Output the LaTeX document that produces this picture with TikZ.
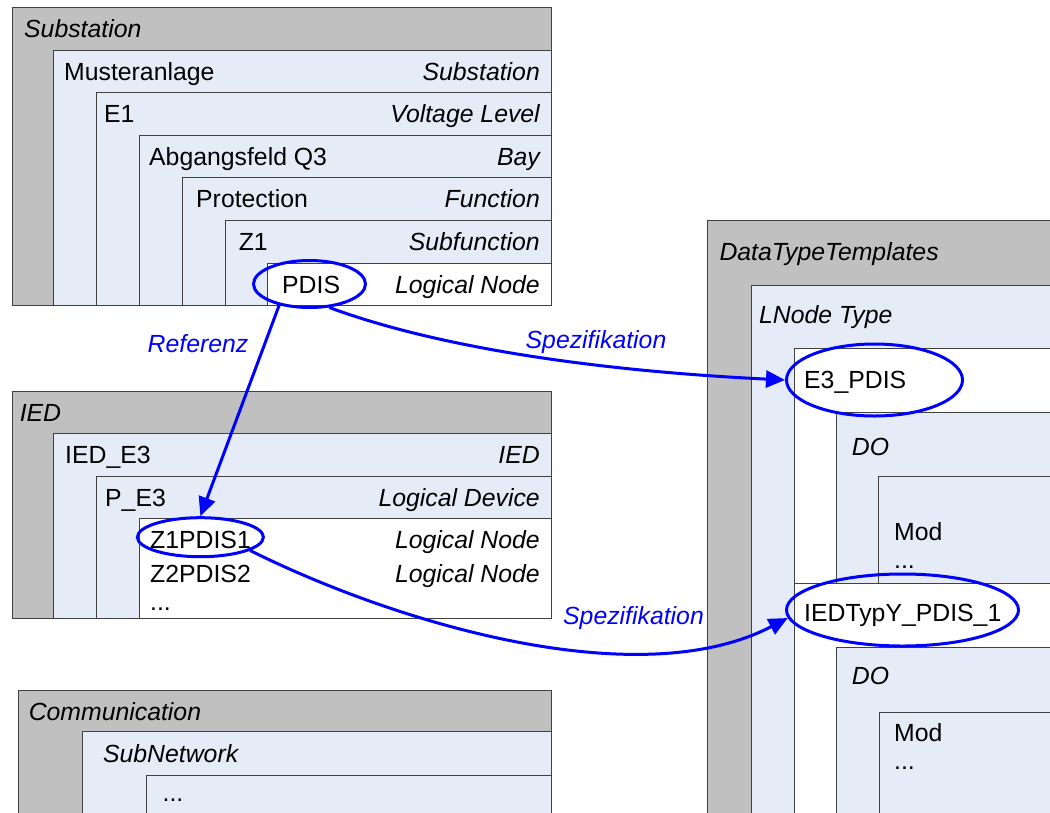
\documentclass[tikz,border=0pt]{standalone}
\usepackage{fontspec}
\setmainfont{Liberation Sans}
\usetikzlibrary{shapes.geometric,arrows.meta}
\definecolor{grayfill}{RGB}{192,192,192}
\definecolor{lightblue}{RGB}{230,236,247}
\definecolor{bordercol}{RGB}{64,64,64}
\definecolor{linkblue}{RGB}{0,0,255}
\tikzset{
  txt/.style={font=\fontsize{24.8pt}{28pt}\selectfont, inner sep=0pt, anchor=base west},
  itxt/.style={txt, font=\fontsize{24.8pt}{28pt}\selectfont\itshape},
  rtxt/.style={itxt, anchor=base east},
  outerbox/.style={fill=grayfill, draw=bordercol, line width=1pt},
  lbbox/.style={fill=lightblue, draw=bordercol, line width=1pt},
  wbox/.style={fill=white, draw=bordercol, line width=1pt},
  ring/.style={draw=linkblue, line width=3pt, ellipse, inner sep=0pt},
  link/.style={draw=linkblue, line width=3pt, -{Triangle[length=19pt,width=17pt]}},
  linklabel/.style={font=\fontsize{24.8pt}{28pt}\selectfont\itshape, text=linkblue, inner sep=0pt}
}
\begin{document}
\begin{tikzpicture}[x=1pt,y=-1pt]
\useasboundingbox (0,0) rectangle (1050,812);
\clip (0,0) rectangle (1050,812);
\fill[white] (0,0) rectangle (1050,812);

% ---------------- Substation ----------------
\path[outerbox] (12,7.5) rectangle (551,305.5);
\path[lbbox] (53,50.1) rectangle (551,305.5);
\path[lbbox] (96,92.7) rectangle (551,305.5);
\path[lbbox] (139,135.3) rectangle (551,305.5);
\path[lbbox] (182,177.9) rectangle (551,305.5);
\path[lbbox] (225,220.5) rectangle (551,305.5);
\path[wbox] (267,263.1) rectangle (551,305.5);

\node[itxt] (subT) at (24,37.5) {Substation};
\node[txt] (mustN) at (64,80.1) {Musteranlage};
\node[rtxt] (mustT) at (540,80.1) {Substation};
\node[txt] (e1N) at (104,122.7) {E1};
\node[rtxt] (e1T) at (540,122.7) {Voltage Level};
\node[txt] (bayN) at (149,165.3) {Abgangsfeld Q3};
\node[rtxt] (bayT) at (540,165.3) {Bay};
\node[txt] (funN) at (196,207.9) {Protection};
\node[rtxt] (funT) at (540,207.9) {Function};
\node[txt] (sfN) at (238.6,250.5) {Z1};
\node[rtxt] (sfT) at (540,250.5) {Subfunction};
\node[txt] (pdisN) at (282,293.1) {PDIS};
\node[rtxt] (lnT) at (540,293.1) {Logical Node};

% ---------------- IED ----------------
\path[outerbox] (12,391.7) rectangle (551,618.3);
\path[lbbox] (53.6,433.3) rectangle (551,618.3);
\path[lbbox] (96.4,476.7) rectangle (551,618.3);
\path[wbox] (139.3,518.7) rectangle (551,618.3);

\node[itxt] (iedT) at (19.6,421) {IED};
\node[txt] (iedN) at (65,463.5) {IED\_E3};
\node[rtxt] (iedR) at (540,463.5) {IED};
\node[txt] (ldN) at (105,506) {P\_E3};
\node[rtxt] (ldT) at (540,506) {Logical Device};
\node[txt] (z1N) at (150,548) {Z1PDIS1};
\node[rtxt] (z1T) at (540,548) {Logical Node};
\node[txt] (z2N) at (150,582.2) {Z2PDIS2};
\node[rtxt] (z2T) at (540,582.2) {Logical Node};
\node[txt] (iedDots) at (150,610) {...};

% ---------------- Communication ----------------
\path[outerbox] (18.6,690) rectangle (551,830);
\path[lbbox] (82.9,731.7) rectangle (551,830);
\path[lbbox] (146.4,775) rectangle (551,830);

\node[itxt] (comT) at (28.6,720) {Communication};
\node[itxt] (snT) at (102.9,762.2) {SubNetwork};
\node[txt] (comDots) at (162.5,801) {...};

% ---------------- DataTypeTemplates ----------------
\path[outerbox] (707.3,220.8) rectangle (1070,830);
\path[lbbox] (751,285) rectangle (1070,830);
\path[wbox] (794,348.5) rectangle (1070,830);
\path[lbbox] (836,412.7) rectangle (1070,830);
\path[lbbox] (878.3,476.5) rectangle (1070,830);
\path[wbox] (794,583) rectangle (1070,830);
\path[lbbox] (836,647.7) rectangle (1070,830);
\path[lbbox] (879,712) rectangle (1070,830);

\node[itxt] (dttT) at (719.3,260.4) {DataTypeTemplates};
\node[itxt] (lntT) at (759,323.5) {LNode Type};
\node[txt] (e3N) at (804,388) {E3\_PDIS};
\node[itxt] (do1T) at (851.7,455.4) {DO};
\node[txt] (mod1N) at (894,540) {Mod};
\node[txt] (mod1Dots) at (894,568) {...};
\node[txt] (iedTypN) at (804,621) {IEDTypY\_PDIS\_1};
\node[itxt] (do2T) at (851.7,684.3) {DO};
\node[txt] (mod2N) at (894,741) {Mod};
\node[txt] (mod2Dots) at (894,769) {...};

% ---------------- Ellipses ----------------
\node[ring, minimum width=112pt, minimum height=47pt] (pdisE) at (309.5,284) {};
\node[ring, minimum width=126pt, minimum height=39pt] (z1E) at (200.4,537.2) {};
\node[ring, minimum width=176pt, minimum height=72pt] (e3E) at (874.5,380) {};
\node[ring, minimum width=232pt, minimum height=72pt] (iedE) at (902.5,610) {};

% ---------------- Links ----------------
\draw[link] (pdisE.215) -- (z1E.north);
\draw[link] (pdisE.310) .. controls (450,352) and (620,372) .. (e3E.west);
\draw[link] (z1E.345) .. controls (400,625) and (640,695) .. (iedE.184);

\node[linklabel] (refL) at (198,343.3) {Referenz};
\node[linklabel] (spez1L) at (596,341.7) {Spezifikation};
\node[linklabel] (spez2L) at (633.5,618.3) {Spezifikation};
\end{tikzpicture}
\end{document}
